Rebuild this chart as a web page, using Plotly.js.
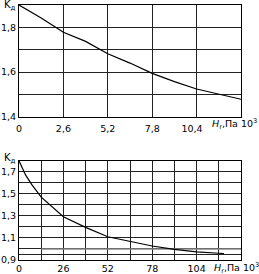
<!DOCTYPE html>
<html><head><meta charset="utf-8">
<script src="https://cdn.plot.ly/plotly-3.0.1.min.js"></script>
<style>html,body{margin:0;padding:0;background:#fff}#c{width:259px;height:274px}</style>
</head><body><div id="c"></div>
<script>
// Top chart data
var topX = [0, 1.3, 2.6, 3.9, 5.2, 6.5, 7.8, 9.1, 10.4, 11.7, 13];
var topY = [1.9, 1.842, 1.778, 1.737, 1.682, 1.64, 1.594, 1.557, 1.524, 1.5, 1.478];
var topXTicks = [0, 2.6, 5.2, 7.8, 10.4, 13];
var topXLabels = ["0", "2,6", "5,2", "7,8", "10,4\u00a0\u00a0\u00a0", ""];
var topYTicks = [1.4, 1.5, 1.6, 1.7, 1.8, 1.9];
var topYLabels = ["1,4", "", "1,6", "", "1,8", ""];

// Bottom chart data
var botX = [0, 3.9, 7.7, 13, 26, 39, 52, 65, 78, 91, 104, 117, 120];
var botY = [1.8, 1.67, 1.58, 1.47, 1.293, 1.196, 1.111, 1.066, 1.027, 0.997, 0.973, 0.961, 0.958];
var botXTicks = [0, 13, 26, 39, 52, 65, 78, 91, 104, 117, 130];
var botXLabels = ["0", "", "26", "", "52", "", "78", "", "104", "", ""];
var botYTicks = [0.9, 0.95, 1.0, 1.1, 1.2, 1.3, 1.4, 1.5, 1.6, 1.7, 1.8];
var botYLabels = ["0,9", "", "", "1,1", "", "1,3", "", "1,5", "", "1,7", ""];
var refLineX = [13, 130];
var refLineY = [1.0, 1.0];

var font = {family: "DejaVu Sans", size: 10, color: "#000"};
var tickFont = {family: "DejaVu Sans", size: 9.5, color: "#000"};
var smallFont = {family: "DejaVu Sans", size: 9.5, color: "#000"};
var axCommon = {showline: true, mirror: true, linecolor: "#000", linewidth: 1,
  showgrid: true, gridcolor: "#222", gridwidth: 1, zeroline: false, ticks: "", ticklen: 0,
  tickfont: tickFont, tickmode: "array", fixedrange: true};

var traces = [
  {x: topX, y: topY, xaxis: "x", yaxis: "y", mode: "lines", line: {color: "#000", width: 1.2}, hoverinfo: "skip"},
  {x: refLineX, y: refLineY, xaxis: "x2", yaxis: "y2", mode: "lines", line: {color: "#888", width: 1.5}, hoverinfo: "skip"},
  {x: botX, y: botY, xaxis: "x2", yaxis: "y2", mode: "lines", line: {color: "#000", width: 1.2}, hoverinfo: "skip"}
];

var layout = {
  width: 259, height: 274, showlegend: false,
  paper_bgcolor: "#fff", plot_bgcolor: "#fff",
  margin: {l: 19, r: 18, t: 5, b: 14},
  font: font,
  xaxis: Object.assign({}, axCommon, {domain: [0, 1], range: [0, 13], tickvals: topXTicks, ticktext: topXLabels, anchor: "y", ticklabelstandoff: 3}),
  yaxis: Object.assign({}, axCommon, {domain: [0.562, 1], range: [1.4, 1.9], tickvals: topYTicks, ticktext: topYLabels, anchor: "x", ticklabelstandoff: 0}),
  xaxis2: Object.assign({}, axCommon, {domain: [0, 1], range: [0, 130], tickvals: botXTicks, ticktext: botXLabels, anchor: "y2", ticklabelstandoff: 0}),
  yaxis2: Object.assign({}, axCommon, {domain: [0, 0.389], range: [0.9, 1.8], tickvals: botYTicks, ticktext: botYLabels, anchor: "x2", ticklabelstandoff: 0}),
  annotations: [
    {text: "K<sub>д</sub>", xref: "paper", yref: "paper", x: -0.075, y: 1.0, xanchor: "left", yanchor: "middle", showarrow: false, font: font},
    {text: "K<sub>д</sub>", xref: "paper", yref: "paper", x: -0.075, y: 0.4, xanchor: "left", yanchor: "middle", showarrow: false, font: font},
    {text: "<i>H</i><sub>r</sub>,Па 10<sup>3</sup>", xref: "paper", yref: "paper", x: 0.86, y: 0.535, xanchor: "left", yanchor: "middle", showarrow: false, font: smallFont},
    {text: "<i>H</i><sub>r</sub>,Па 10<sup>3</sup>", xref: "paper", yref: "paper", x: 0.87, y: -0.03, xanchor: "left", yanchor: "middle", showarrow: false, font: smallFont}
  ]
};
Plotly.newPlot("c", traces, layout, {displayModeBar: false, staticPlot: true});
</script></body></html>
